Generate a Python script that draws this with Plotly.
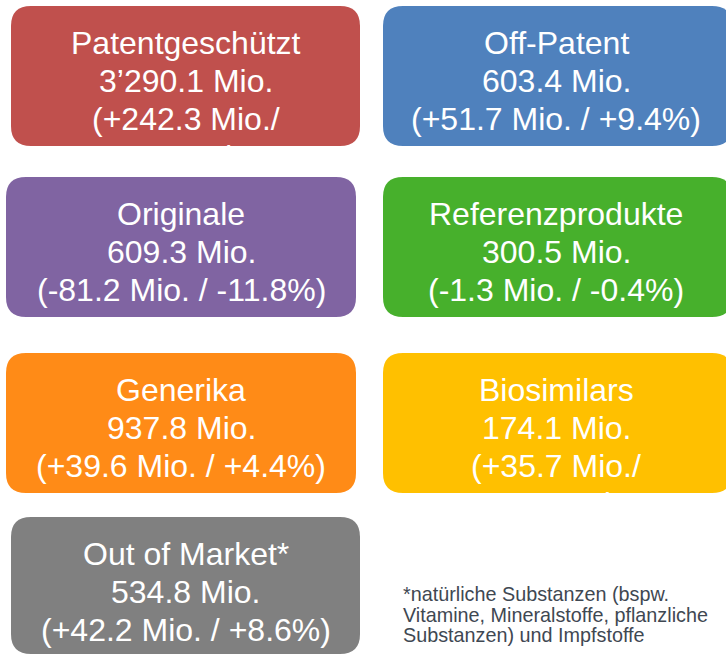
import plotly.graph_objects as go

# ---- data ----
categories = ["Patentgeschützt", "Off-Patent", "Originale", "Referenzprodukte",
              "Generika", "Biosimilars", "Out of Market*"]
values_mio = [3290.1, 603.4, 609.3, 300.5, 937.8, 174.1, 534.8]
change_mio = [242.3, 51.7, -81.2, -1.3, 39.6, 35.7, 42.2]
change_pct = [8.0, 9.4, -11.8, -0.4, 4.4, 25.8, 8.6]
footnote_lines = ["*natürliche Substanzen (bspw.",
                  "Vitamine, Mineralstoffe, pflanzliche",
                  "Substanzen) und Impfstoffe"]

# ---- styles / layout ----
colors = ["#C0504D", "#4F81BD", "#8064A2", "#47B02C", "#FF8B17", "#FFC000", "#808080"]
wrap_change_line = [True, False, False, False, False, True, False]
# box geometry (page pixels): column x-extents and row y-extents
col_x = [(11, 360), (383, 732)]
col_x_alt = [(6, 356), (383, 732)]
row_y = [(6, 146), (177, 317), (353, 493), (517, 654)]
W, H = 726, 655
FONT = "Arial, Liberation Sans, sans-serif"
FS = 32
RADIUS = 20
baseline_offsets = [48, 86, 124, 162]


def fmt_num(v):
    return f"{abs(v):,.1f}".replace(",", "\u2019")


def fmt_signed(v):
    return ("+" if v >= 0 else "-") + fmt_num(v)


def rrect(x0, y0, x1, y1, r):
    return (f"M {x0+r},{y0} L {x1-r},{y0} Q {x1},{y0} {x1},{y0+r} "
            f"L {x1},{y1-r} Q {x1},{y1} {x1-r},{y1} L {x0+r},{y1} "
            f"Q {x0},{y1} {x0},{y1-r} L {x0},{y0+r} Q {x0},{y0} {x0+r},{y0} Z")


fig = go.Figure()
fig.add_trace(go.Scatter(x=[], y=[], mode="markers", showlegend=False, hoverinfo="skip"))

shapes = []
annotations = []
for i, cat in enumerate(categories):
    row, col = divmod(i, 2)
    if row in (1, 2) and col == 0:
        x0, x1 = col_x_alt[col]
    else:
        x0, x1 = col_x[col]
    y0, y1 = row_y[row]
    shapes.append(dict(type="path", xref="x", yref="y", path=rrect(x0, y0, x1, y1, RADIUS),
                       fillcolor=colors[i], line=dict(width=0), layer="below"))
    value_line = f"{fmt_num(values_mio[i])} Mio."
    if wrap_change_line[i]:
        lines = [cat, value_line,
                 f"({fmt_signed(change_mio[i])} Mio./",
                 f"{fmt_signed(change_pct[i])}%)"]
    else:
        lines = [cat, value_line,
                 f"({fmt_signed(change_mio[i])} Mio. / {fmt_signed(change_pct[i])}%)"]
    xc = (x0 + min(x1, 729)) / 2
    for k, ln in enumerate(lines):
        yb = y0 + baseline_offsets[k]
        annotations.append(dict(x=xc, y=yb - 0.35 * FS, xref="x", yref="y", text=ln,
                                showarrow=False, xanchor="center", yanchor="middle",
                                font=dict(family=FONT, size=FS, color="white")))

FN_FS = 19.8
fn_centers = [594, 614.5, 635]
for k, ln in enumerate(footnote_lines):
    annotations.append(dict(x=401, y=fn_centers[k], xref="x", yref="y", text=ln,
                            showarrow=False, xanchor="left", yanchor="middle",
                            font=dict(family=FONT, size=FN_FS, color="#3F4852")))

fig.update_layout(
    width=W, height=H,
    margin=dict(l=0, r=0, t=0, b=0),
    paper_bgcolor="white", plot_bgcolor="white",
    xaxis=dict(range=[0, W], visible=False, fixedrange=True),
    yaxis=dict(range=[H, 0], visible=False, fixedrange=True),
    shapes=shapes, annotations=annotations, showlegend=False,
)

fig.write_html(
    "out.html",
    config={"displayModeBar": False},
    post_script=("document.body.style.margin='0';"
                 "document.body.style.overflow='hidden';"
                 "document.documentElement.style.overflow='hidden';"),
)
